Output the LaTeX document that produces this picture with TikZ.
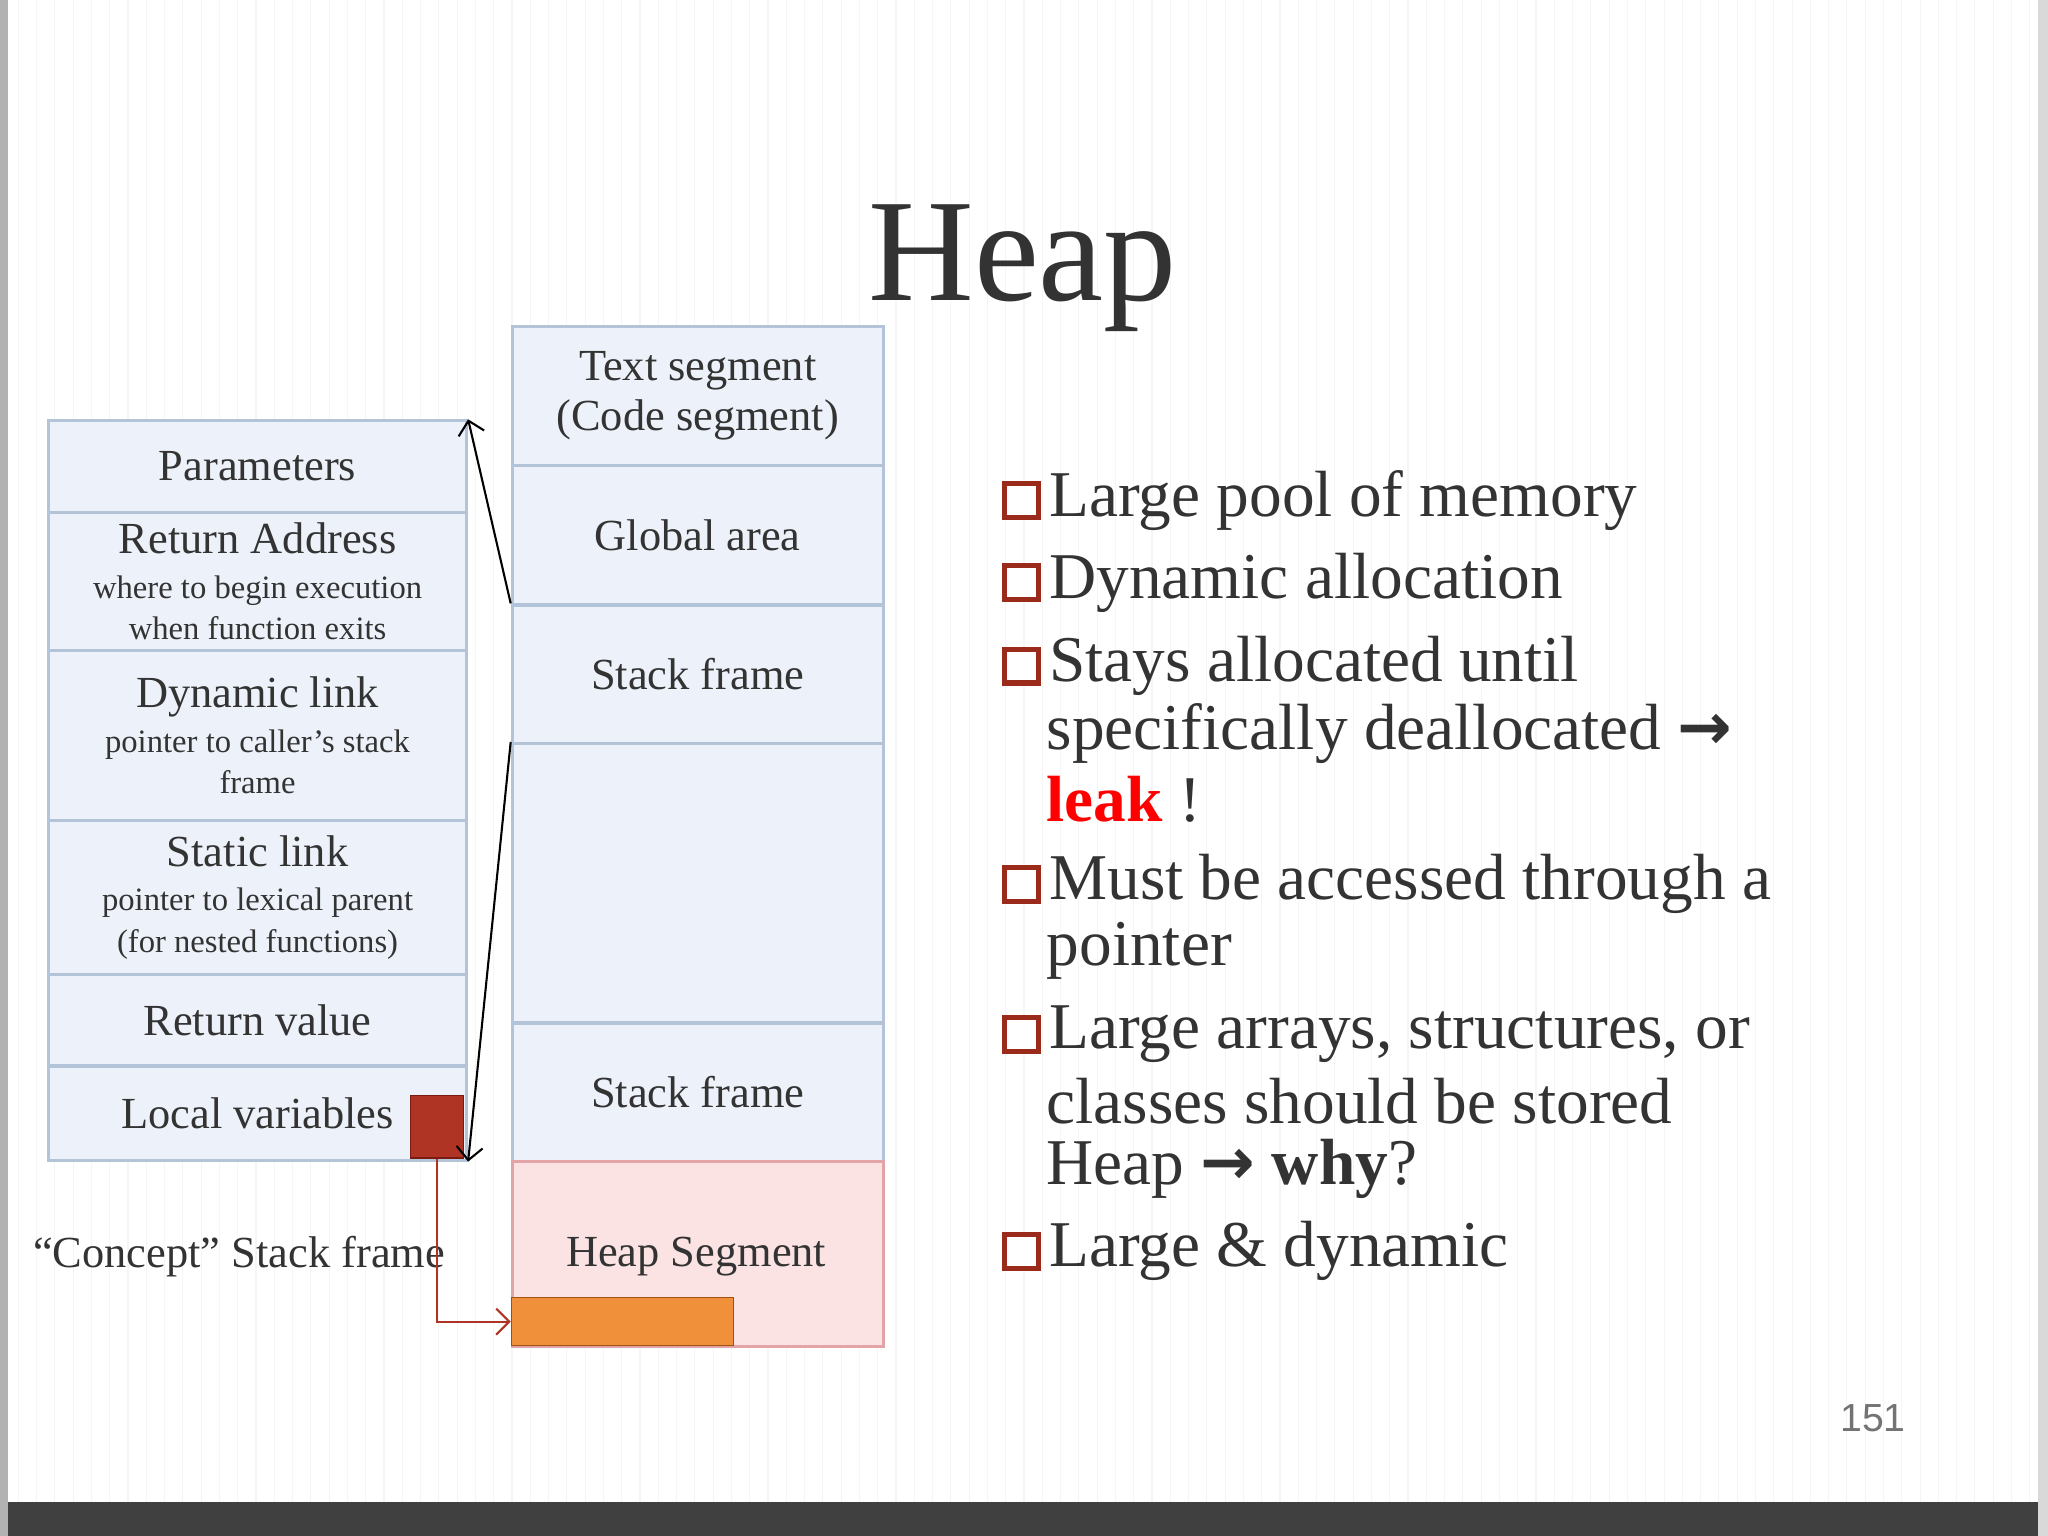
\documentclass[tikz,border=0pt]{standalone}
\usepackage{fontspec}
\setmainfont{Liberation Serif}
\newfontfamily\numfont{Liberation Sans}
\newfontfamily\arrfont{DejaVu Sans}
\usetikzlibrary{arrows.meta}
\definecolor{boxfill}{HTML}{EDF2FA}
\definecolor{boxline}{HTML}{B4C4D8}
\definecolor{bul}{HTML}{9A2A1A}
\definecolor{txt}{HTML}{333333}
\definecolor{heapline}{HTML}{E3A4A8}
\definecolor{heapfill}{HTML}{FBE3E4}
\definecolor{rsline}{HTML}{7A1A10}
\definecolor{rsfill}{HTML}{B03424}
\definecolor{obline}{HTML}{A05010}
\definecolor{obfill}{HTML}{F0903A}
\tikzset{
 cell/.style={draw=boxline,line width=1.2pt,fill=boxfill,inner sep=0pt,anchor=north west,align=center,text=txt,font=\fontsize{17}{19}\selectfont},
 heap/.style={cell,draw=heapline, fill=heapfill},
 bl/.style={anchor=west,text=txt,font=\fontsize{25}{28}\selectfont,inner sep=0pt},
 box/.style={draw=bul,line width=2pt,fill=white,minimum size=13pt,inner sep=0pt}
}
\newcommand{\sm}{\fontsize{12.5}{14}\selectfont}
\newcommand{\rarr}{{\arrfont\bfseries →}}
\begin{document}
\begin{tikzpicture}[x=0.5pt,y=-0.5pt]
\useasboundingbox (0,0) rectangle (1568,1176);
\fill[white] (0,0) rectangle (1568,1176);
\draw[black!4,step=14] (10,0) grid (1555,1150);
\fill[black!75] (0,1150) rectangle (1568,1176);
\fill[black!30] (0,0) rectangle (6,1176);
\fill[black!15] (1560,0) rectangle (1568,1176);
% title
\node[text=txt,font=\fontsize{56}{64}\selectfont] (title) at (783,205) {Heap};
% concept frame
\node[cell,minimum width=160pt,minimum height=35pt] (p) at (36,321) {Parameters};
\node[cell,minimum width=160pt,minimum height=53pt] (ra) at (36,391) {Return Address\\[-2pt]{\sm where to begin execution}\\[-3pt]{\sm when function exits}};
\node[cell,minimum width=160pt,minimum height=65pt] (dl) at (36,497) {Dynamic link\\[-2pt]{\sm pointer to caller's stack}\\[-3pt]{\sm frame}};
\node[cell,minimum width=160pt,minimum height=59pt] (sl) at (36,627) {Static link\\[-2pt]{\sm pointer to lexical parent}\\[-3pt]{\sm (for nested functions)}};
\node[cell,minimum width=160pt,minimum height=35pt] (rv) at (36,745) {Return value};
\node[cell,minimum width=160pt,minimum height=36pt] (lv) at (36,815) {Local variables};
\node[draw=rsline,fill=rsfill,minimum width=20pt,minimum height=24pt,inner sep=0pt,anchor=south east] (rs) at (355,887) {};
\node[text=txt,font=\fontsize{17}{19}\selectfont] (cl) at (183,962) {“Concept” Stack frame};
% memory column
\node[cell,minimum width=142pt,minimum height=53pt] (ts) at (391,249) {Text segment\\(Code segment)};
\node[cell,minimum width=142pt,minimum height=53.5pt] (ga) at (391,355) {Global area};
\node[cell,minimum width=142pt,minimum height=53pt] (sf1) at (391,462) {Stack frame};
\node[cell,minimum width=142pt,minimum height=107pt] (bk) at (391,568) {};
\node[cell,minimum width=142pt,minimum height=53pt] (sf2) at (391,782) {Stack frame};
\node[heap,minimum width=142pt,minimum height=71pt] (hs) at (391,888) {};
\node[text=txt,font=\fontsize{17}{19}\selectfont] (hl) at (533,962) {Heap Segment};
\node[draw=obline,fill=obfill,minimum width=85pt,minimum height=18.5pt,inner sep=0pt,anchor=north west] (ob) at (391,993) {};
% connectors
\draw[-{Straight Barb[length=5pt]},line width=0.8pt] (sf1.north west) -- (p.north east);
\draw[-{Straight Barb[length=5pt]},line width=0.8pt] (bk.north west) -- (lv.south east);
\draw[-{Straight Barb[length=5pt]},line width=0.8pt,draw=rsfill] (rs.south) |- (ob.west);
% bullets
\foreach \y/\t [count=\i] in {383/{Large pool of memory},446/{Dynamic allocation},510/{Stays allocated until},677/{Must be accessed through a},792/{Large arrays, structures, or},958/{Large \& dynamic}}{
 \node[box] (b\i) at (782,\y) {};
 \node[bl] (t\i) at (803,\y) {\t};
}
\node[bl] (t3b) at (801,562) {specifically deallocated \rarr};
\node[bl] (t3c) at (801,612) {\textcolor{red}{\textbf{leak}} !};
\node[bl] (t4b) at (801,728) {pointer};
\node[bl] (t5b) at (801,843) {classes should be stored};
\node[bl] (t5c) at (801,895) {Heap \rarr\ \textbf{why}?};
\node[text=black!55,font=\numfont\fontsize{15}{18}\selectfont] (pn) at (1434,1086) {151};
\end{tikzpicture}
\end{document}
